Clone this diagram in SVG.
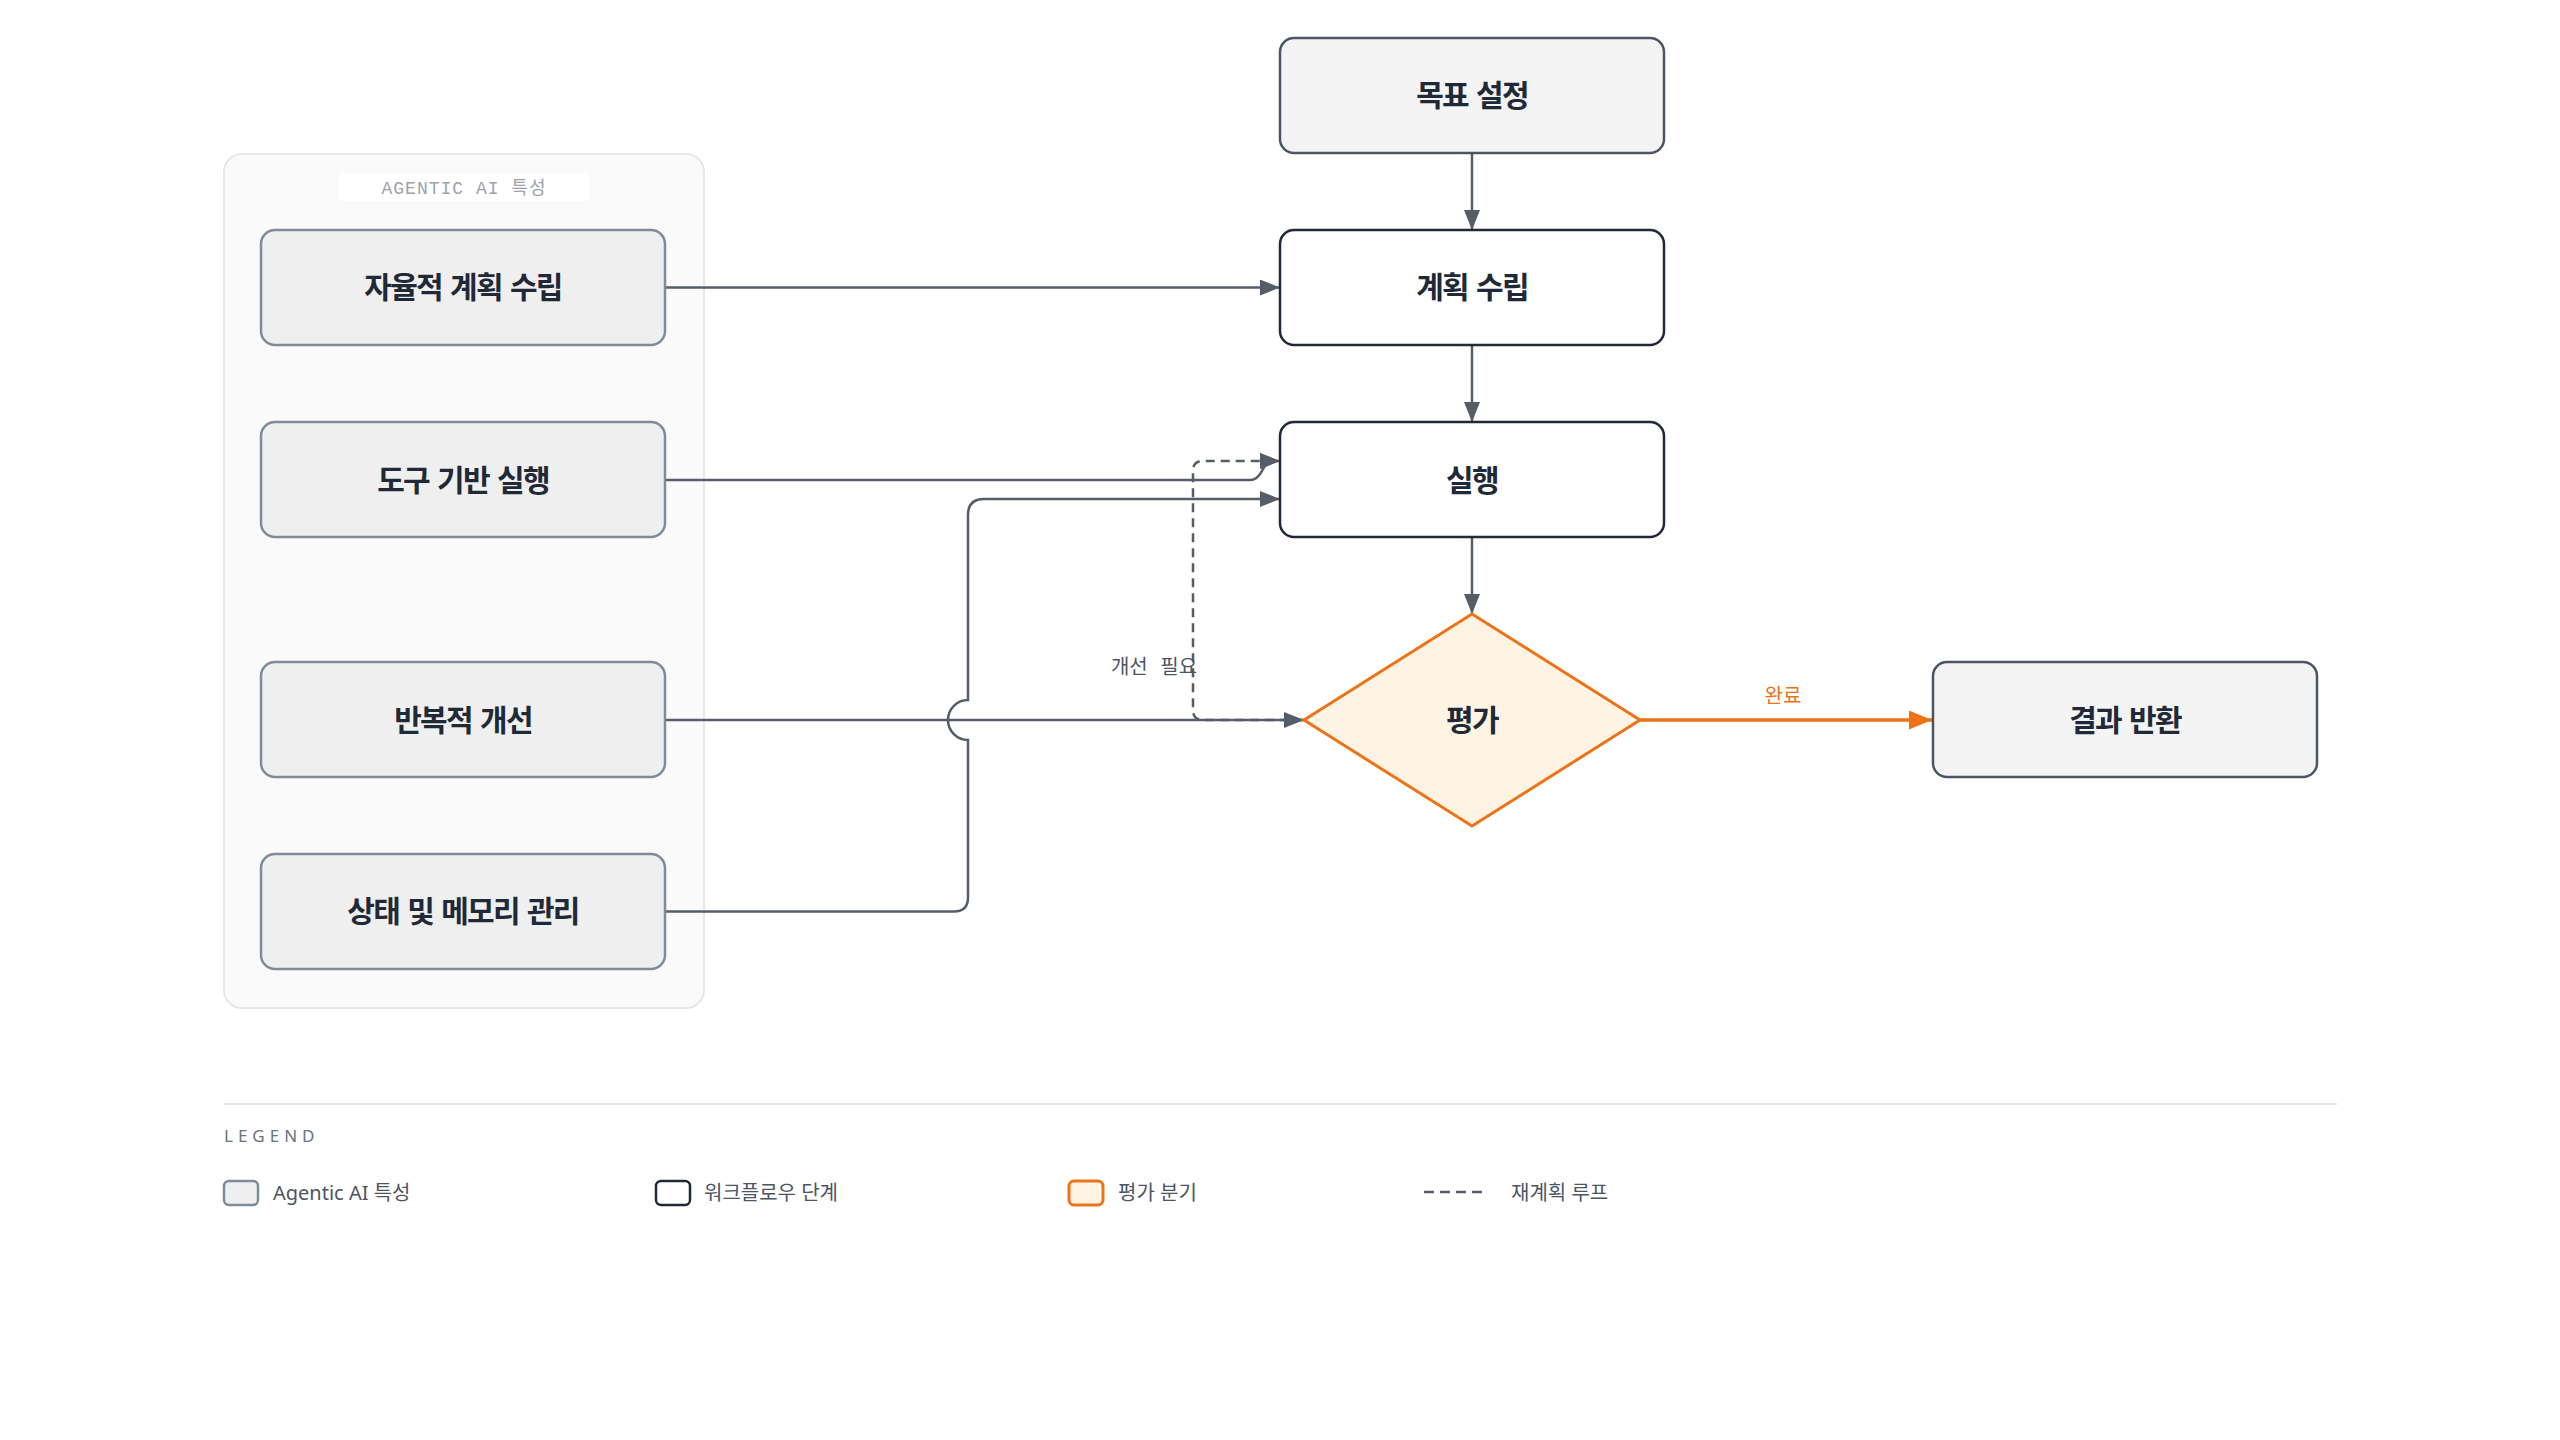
<svg xmlns="http://www.w3.org/2000/svg" width="2560" height="1440" viewBox="0 0 2560 1440">
<defs>
<style>
.bg{fill:#ffffff}
.group{fill:#fafafa;stroke:#e5e7eb;stroke-width:2}
.gtitle-bg{fill:#ffffff}
.gtitle{font-family:"Liberation Mono","Noto Sans CJK KR",monospace;font-size:18px;letter-spacing:1px;fill:#9ca3af;text-anchor:middle}
.feat{fill:#efefef;stroke:#7f8a9b;stroke-width:2.5}
.step{fill:#ffffff;stroke:#1f2937;stroke-width:2.5}
.term{fill:#f4f4f4;stroke:#4b5563;stroke-width:2.5}
.dec{fill:#fff4e3;stroke:#ee7318;stroke-width:3}
.lbl{font-family:"Noto Sans CJK KR","Noto Sans",sans-serif;font-weight:700;font-size:30px;letter-spacing:-1.7px;word-spacing:3px;fill:#1f2937;text-anchor:middle}
.edge{fill:none;stroke:#555d69;stroke-width:2.5}
.dash{stroke-dasharray:9 6}
.orange{fill:none;stroke:#ee7318;stroke-width:3.5}
.elbl{font-family:"Noto Sans CJK KR","Noto Sans",sans-serif;font-size:20px;fill:#4b5563;text-anchor:middle}
.olbl{font-family:"Noto Sans CJK KR","Noto Sans",sans-serif;font-size:20px;fill:#ee7318;text-anchor:middle}
.legtitle{font-family:"Noto Sans","Noto Sans CJK KR",sans-serif;font-size:17px;letter-spacing:5px;fill:#6b7280}
.legtxt{font-family:"Noto Sans","Noto Sans CJK KR",sans-serif;font-size:20px;fill:#4b5563}
</style>
<marker id="arr" markerUnits="userSpaceOnUse" markerWidth="20" markerHeight="16" refX="20" refY="8" orient="auto">
<path d="M0,0 L20,8 L0,16 Z" fill="#555d69"/>
</marker>
<marker id="arr-o" markerUnits="userSpaceOnUse" markerWidth="23" markerHeight="19" refX="23" refY="9.5" orient="auto">
<path d="M0,0 L23,9.5 L0,19 Z" fill="#ee7318"/>
</marker>
</defs>
<rect class="bg" x="0" y="0" width="2560" height="1440"/>

<g id="group-agentic">
<rect class="group" x="224" y="154" width="480" height="854" rx="18"/>
<rect class="gtitle-bg" x="339" y="173" width="250" height="28" rx="4"/>
<text class="gtitle" x="464" y="194">AGENTIC AI 특성</text>
</g>

<g id="edges">
<path class="edge" d="M1472,153 V230" marker-end="url(#arr)"/>
<path class="edge" d="M1472,345 V422" marker-end="url(#arr)"/>
<path class="edge" d="M1472,537 V614" marker-end="url(#arr)"/>
<path class="orange" d="M1640,720 H1932" marker-end="url(#arr-o)"/>
<path class="edge" d="M665,287.5 H1280" marker-end="url(#arr)"/>
<path class="edge" d="M665,480 H1250 C1262,480 1264,461 1270,461 H1280" marker-end="url(#arr)"/>
<path class="edge" d="M665,720 H1304" marker-end="url(#arr)"/>
<path class="edge" d="M665,911.5 H954 Q968,911.5 968,897.5 V740 A20,20 0 0 1 968,700 V515 Q968,499 984,499 H1280" marker-end="url(#arr)"/>
<path class="edge dash" d="M1304,720 H1203 Q1193,720 1193,710 V471 Q1193,461 1203,461 H1280" marker-end="url(#arr)"/>
<text class="elbl" x="1154" y="674" word-spacing="8">개선 필요</text>
<text class="olbl" x="1783" y="703">완료</text>
</g>

<g id="node-autoplan">
<rect class="feat" x="261" y="230" width="404" height="115" rx="14"/>
<text class="lbl" x="463" y="298">자율적 계획 수립</text>
</g>
<g id="node-tool">
<rect class="feat" x="261" y="422" width="404" height="115" rx="14"/>
<text class="lbl" x="463" y="490.5">도구 기반 실행</text>
</g>
<g id="node-iter">
<rect class="feat" x="261" y="662" width="404" height="115" rx="14"/>
<text class="lbl" x="463" y="730.5">반복적 개선</text>
</g>
<g id="node-state">
<rect class="feat" x="261" y="854" width="404" height="115" rx="14"/>
<text class="lbl" x="463" y="922">상태 및 메모리 관리</text>
</g>

<g id="node-goal">
<rect class="term" x="1280" y="38" width="384" height="115" rx="14"/>
<text class="lbl" x="1472" y="106">목표 설정</text>
</g>
<g id="node-plan">
<rect class="step" x="1280" y="230" width="384" height="115" rx="14"/>
<text class="lbl" x="1472" y="298">계획 수립</text>
</g>
<g id="node-exec">
<rect class="step" x="1280" y="422" width="384" height="115" rx="14"/>
<text class="lbl" x="1472" y="490.5">실행</text>
</g>
<g id="node-eval">
<polygon class="dec" points="1472,614 1640,720 1472,826 1304,720"/>
<text class="lbl" x="1472" y="730.5">평가</text>
</g>
<g id="node-result">
<rect class="term" x="1933" y="662" width="384" height="115" rx="14"/>
<text class="lbl" x="2125" y="730.5">결과 반환</text>
</g>

<g id="legend">
<path d="M224,1104 H2337" stroke="#e5e7eb" stroke-width="2" fill="none"/>
<text class="legtitle" x="224" y="1142">LEGEND</text>
<rect class="feat" x="224" y="1181" width="34" height="24" rx="5" style="stroke-width:2.5"/>
<text class="legtxt" x="273" y="1200">Agentic AI 특성</text>
<rect class="step" x="656" y="1181" width="34" height="24" rx="5"/>
<text class="legtxt" x="704" y="1200">워크플로우 단계</text>
<rect class="dec" x="1069" y="1181" width="34" height="24" rx="5"/>
<text class="legtxt" x="1118" y="1200">평가 분기</text>
<path class="edge dash" d="M1424,1192 H1484" style="stroke-dasharray:10 6"/>
<text class="legtxt" x="1511" y="1200">재계획 루프</text>
</g>
</svg>
